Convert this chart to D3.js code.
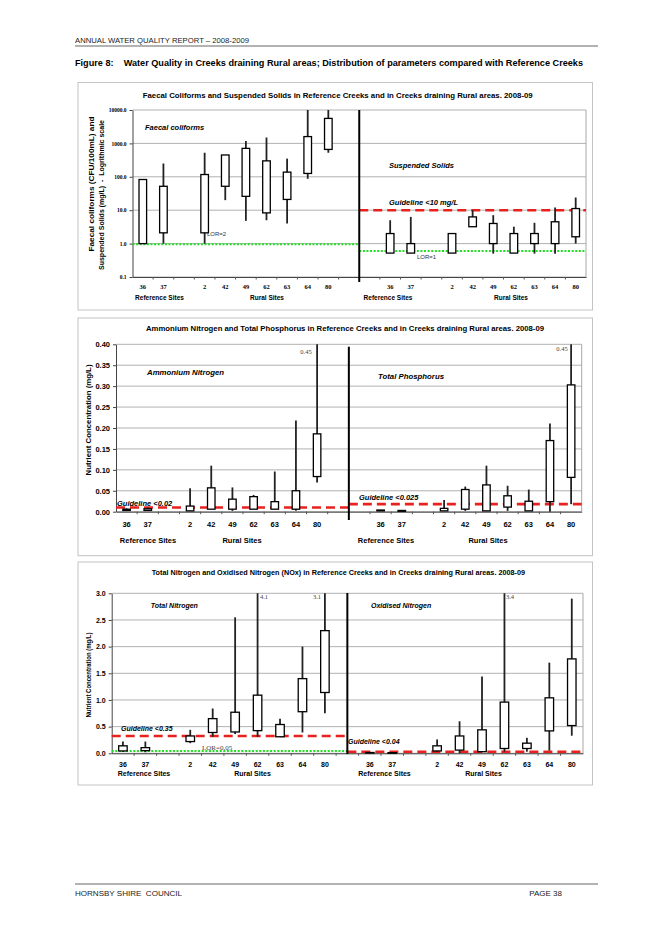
<!DOCTYPE html>
<html>
<head>
<meta charset="utf-8">
<script src="https://cdn.jsdelivr.net/npm/d3@7"></script>
<style>
  body { margin: 0; background: #fff; }
  svg { display: block; font-family: Arial, "Liberation Sans", sans-serif; }
  text { white-space: pre; }
</style>
</head>
<body>
<svg id="page" width="659" height="931"></svg>
<script>
// site labels, same order on both halves of every chart
var siteLabels = ['36', '37', '2', '42', '49', '62', '63', '64', '80'];
var siteSlots = [0, 1, 3, 4, 5, 6, 7, 8, 9];   // slot 2 = gap between reference and rural sites

// each row: [min, 25th, 75th, max]
var faecalColiforms = [[1, 1, 83, 83], [1, 2.1, 52, 250], [1, 2.1, 117, 525], [20, 52, 450, 450],
  [4.8, 26, 710, 1180], [5, 8.3, 300, 1500], [4, 21, 138, 350], [87, 126, 1600, 15000], [525, 660, 5600, 20000]];
var suspendedSolids = [[0.52, 0.52, 2, 5], [0.52, 0.52, 1, 6.3], [0.52, 0.52, 2, 2], [3.2, 3.2, 6.3, 10],
  [0.5, 1, 4, 7.1], [0.52, 0.52, 2, 3.2], [0.5, 1, 2, 4.2], [0.5, 1, 4.5, 12], [1, 1.6, 11.2, 24]];
var ammoniumN = [[0.002, 0.003, 0.006, 0.008], [0.002, 0.003, 0.007, 0.01], [0.002, 0.002, 0.0135, 0.056],
  [0.006, 0.006, 0.057, 0.11], [0.002, 0.006, 0.03, 0.058], [0.006, 0.006, 0.036, 0.04],
  [0.006, 0.006, 0.024, 0.096], [0.002, 0.006, 0.05, 0.218], [0.07, 0.084, 0.186, 0.45]];
var totalP = [[0.002, 0.002, 0.004, 0.004], [0.001, 0.001, 0.003, 0.003], [0.002, 0.002, 0.008, 0.028],
  [0.002, 0.006, 0.053, 0.06], [0.002, 0.002, 0.064, 0.11], [0.002, 0.011, 0.038, 0.062],
  [0.002, 0.002, 0.025, 0.053], [0, 0.024, 0.17, 0.211], [0.018, 0.082, 0.303, 0.45]];
var totalN = [[0.03, 0.044, 0.14, 0.22], [0.02, 0.05, 0.106, 0.22], [0.19, 0.22, 0.325, 0.44],
  [0.31, 0.39, 0.65, 0.84], [0.36, 0.4, 0.77, 2.55], [0.31, 0.425, 1.09, 4.1], [0.31, 0.31, 0.54, 0.65],
  [0.39, 0.78, 1.4, 2.0], [0.75, 1.14, 2.3, 3.1]];
var oxidisedN = [[0.005, 0.005, 0.015, 0.015], [0.005, 0.005, 0.012, 0.012], [0.03, 0.044, 0.14, 0.26],
  [0, 0.06, 0.325, 0.6], [0.03, 0.03, 0.44, 1.44], [0.03, 0.09, 0.96, 3.4], [0.03, 0.09, 0.19, 0.29],
  [0.05, 0.42, 1.04, 1.7], [0.33, 0.52, 1.77, 2.9]];

// axis ticks
var logTicks = [0.1, 1, 10, 100, 1000, 10000];
var ammTicks = [0, 0.05, 0.10, 0.15, 0.20, 0.25, 0.30, 0.35, 0.40];
var tnTicks = [0, 0.5, 1.0, 1.5, 2.0, 2.5, 3.0];

// guideline / LOR levels as drawn
var lorFaecal = 0.95, lorSolids = 0.6, guideSolids = 10;
var guideAmm = 0.01, guideTP = 0.018;
var guideTN = 0.325, lorTN = 0.044, guideNOx = 0.03;

var svg = d3.select('#page');
var serif = '"Liberation Serif", "DejaVu Serif", serif';
var sans = 'Arial, "Liberation Sans", sans-serif';

function txt(g, s, x, y, o) {
  o = o || {};
  var t = g.append('text').attr('x', x).attr('y', y).attr('dy', '0.35em')
    .attr('font-size', o.size || 7).attr('fill', o.fill || '#000')
    .attr('text-anchor', o.anchor || 'start').attr('xml:space', 'preserve').text(s);
  if (o.bold) t.attr('font-weight', 'bold');
  if (o.italic) t.attr('font-style', 'italic');
  if (o.family) t.attr('font-family', o.family);
  if (o.len) t.attr('textLength', o.len).attr('lengthAdjust', 'spacingAndGlyphs');
  if (o.rotate) t.attr('transform', 'rotate(-90,' + x + ',' + y + ')');
  return t;
}

function refLine(g, y, v, x0, x1, kind) {
  var l = g.append('line').attr('x1', x0).attr('x2', x1).attr('y1', y(v)).attr('y2', y(v));
  if (kind === 'red') l.attr('stroke', '#e8211f').attr('stroke-width', 2.6).attr('stroke-dasharray', '9,5');
  else l.attr('stroke', '#22dd22').attr('stroke-width', 2).attr('stroke-dasharray', '2,1.6');
}

function drawPanel(o) {
  var g = svg.append('g');
  var f = o.frame;
  g.append('rect').attr('x', f[0]).attr('y', f[1]).attr('width', f[2] - f[0]).attr('height', f[3] - f[1])
    .attr('fill', 'none').attr('stroke', '#c4c4c4');
  txt(g, o.title, (o.titleX[0] + o.titleX[1]) / 2, o.titleY,
    {anchor: 'middle', bold: true, size: 7, len: o.titleX[1] - o.titleX[0]});

  var x = d3.scaleBand().domain(d3.range(o.nSlots)).range([o.l, o.r]);
  var bw = x.bandwidth();
  var y = o.y;

  // grid and plot frame
  g.append('g').selectAll('line').data(o.ticks).join('line')
    .attr('x1', o.l).attr('x2', o.r).attr('y1', d => y(d)).attr('y2', d => y(d))
    .attr('stroke', '#a8a8a8').attr('stroke-width', 0.9);
  g.append('line').attr('x1', o.r).attr('x2', o.r).attr('y1', o.t).attr('y2', o.b)
    .attr('stroke', '#a8a8a8');

  // y axis
  var ya = g.append('g').attr('transform', 'translate(' + o.l + ',0)')
    .call(d3.axisLeft(y).tickValues(o.ticks).tickFormat(d3.format(o.fmt)).tickSize(3).tickSizeOuter(0));
  ya.select('.domain').attr('stroke', '#444');
  ya.selectAll('.tick line').attr('stroke', '#444');
  ya.selectAll('text').attr('font-family', o.yFamily).attr('font-size', o.ySize)
    .attr('font-weight', 'bold').attr('fill', '#000');

  // x axis: site labels in their slots, minor ticks at slot edges
  var slotLabel = {};
  siteSlots.forEach(function (s, i) {
    slotLabel[s] = siteLabels[i];
    slotLabel[s + o.rightOffset] = siteLabels[i];
  });
  var xa = g.append('g').attr('transform', 'translate(0,' + o.b + ')')
    .call(d3.axisBottom(x).tickValues(Object.keys(slotLabel).map(Number))
      .tickFormat(d => slotLabel[d]).tickSize(0).tickSizeOuter(0).tickPadding(o.xPad));
  xa.select('.domain').attr('stroke', '#444');
  xa.selectAll('text').attr('font-family', o.xFamily).attr('font-size', o.xSize)
    .attr('font-weight', 'bold').attr('fill', '#000');
  g.append('g').selectAll('line').data(d3.range(1, o.nSlots)).join('line')
    .attr('x1', d => x(d)).attr('x2', d => x(d)).attr('y1', o.b).attr('y2', o.b + 2.5)
    .attr('stroke', '#555');

  // group labels
  o.groups.forEach(function (gl) {
    txt(g, gl[0], gl[1], o.groupY, {anchor: 'middle', bold: true, size: o.groupSize});
  });

  // reference lines
  o.refs.forEach(function (r) {
    refLine(g, y, r.v, r.side === 'L' ? o.l : o.divX(x), r.side === 'L' ? o.divX(x) : o.r, r.kind);
  });

  // boxes
  [[o.left, 0], [o.right, o.rightOffset]].forEach(function (half) {
    var bg = g.append('g').selectAll('g').data(half[0]).join('g')
      .attr('transform', (d, i) => 'translate(' + (x(siteSlots[i] + half[1]) + bw / 2) + ',0)');
    bg.append('line').attr('y1', d => y(d[0])).attr('y2', d => y(d[3]))
      .attr('stroke', '#222').attr('stroke-width', 1.8);
    bg.append('rect').attr('x', -o.boxW / 2).attr('width', o.boxW)
      .attr('y', d => y(d[2])).attr('height', d => Math.max(0.6, y(d[1]) - y(d[2])))
      .attr('fill', '#fff').attr('stroke', '#000').attr('stroke-width', 1.3);
  });

  // divider between the two parameters
  var dx = o.divX(x);
  g.append('line').attr('x1', dx).attr('x2', dx).attr('y1', o.divY[0]).attr('y2', o.divY[1])
    .attr('stroke', '#000').attr('stroke-width', 2);

  o.notes.forEach(function (n) { txt(g, n[0], n[1], n[2], n[3]); });
  return g;
}

// ---- page header ----
txt(svg, 'ANNUAL WATER QUALITY REPORT \u2013 2008-2009', 75, 40, {size: 7.5, len: 174, fill: '#222'});
svg.append('line').attr('x1', 75).attr('x2', 598).attr('y1', 46).attr('y2', 46).attr('stroke', '#666');
txt(svg, 'Figure 8:    Water Quality in Creeks draining Rural areas; Distribution of parameters compared with Reference Creeks',
  75, 63, {size: 9.5, bold: true, len: 508});

// ---- panel 1 : faecal coliforms / suspended solids (log) ----
var it = {bold: true, italic: true, size: 7.5};
drawPanel({
  frame: [78, 82.5, 592.5, 310],
  title: 'Faecal Coliforms and Suspended Solids in Reference Creeks and in Creeks draining Rural areas. 2008-09',
  titleX: [142.7, 532.7], titleY: 96,
  l: 132.5, r: 586, t: 110, b: 277, nSlots: 22, rightOffset: 12,
  y: d3.scaleLog().domain([0.1, 10000]).range([277, 110]).clamp(true),
  ticks: logTicks, fmt: '.1f', yFamily: serif, ySize: 5.5,
  xFamily: serif, xSize: 6.5, xPad: 7.5,
  groups: [['Reference Sites', 159.5], ['Rural Sites', 267], ['Reference Sites', 388], ['Rural Sites', 511]],
  groupY: 298, groupSize: 6.5,
  refs: [{v: lorFaecal, side: 'L', kind: 'green'}, {v: lorSolids, side: 'R', kind: 'green'},
    {v: guideSolids, side: 'R', kind: 'red'}],
  left: faecalColiforms, right: suspendedSolids, boxW: 7.6,
  divX: x => x(11), divY: [110, 282],
  notes: [
    ['Faecal coliforms', 145, 127, it],
    ['Suspended Solids', 389, 165, it],
    ['Guideline <10 mg/L', 389, 202, it],
    ['LOR=2', 207, 234, {size: 6, fill: '#333'}],
    ['LOR=1', 417, 257, {size: 6, fill: '#333'}],
    ['Faecal coliforms (CFU/100mL) and', 92, 184, {bold: true, size: 7, rotate: true, anchor: 'middle', len: 135}],
    ['Suspended Solids (mg/L)  -  Logrithmic scale', 102, 195, {bold: true, size: 7, rotate: true, anchor: 'middle', len: 150}]
  ]
});

// ---- panel 2 : ammonium nitrogen / total phosphorus ----
drawPanel({
  frame: [78, 318, 592.5, 555.7],
  title: 'Ammonium Nitrogen and Total Phosphorus in Reference Creeks and in Creeks draining Rural areas. 2008-09',
  titleX: [146, 544], titleY: 328.5,
  l: 116, r: 581.7, t: 344.3, b: 511.7, nSlots: 22, rightOffset: 12,
  y: d3.scaleLinear().domain([0, 0.4]).range([511.7, 344.3]).clamp(true),
  ticks: ammTicks, fmt: '.2f', yFamily: sans, ySize: 7.5,
  xFamily: sans, xSize: 7.5, xPad: 10,
  groups: [['Reference Sites', 148], ['Rural Sites', 242], ['Reference Sites', 386], ['Rural Sites', 488]],
  groupY: 540, groupSize: 7.5,
  refs: [{v: guideAmm, side: 'L', kind: 'red'}, {v: guideTP, side: 'R', kind: 'red'}],
  left: ammoniumN, right: totalP, boxW: 7.5,
  divX: x => x(11), divY: [346.7, 520],
  notes: [
    ['Ammonium Nitrogen', 147, 372, {bold: true, italic: true, size: 7.8}],
    ['Total Phosphorus', 378, 376, {bold: true, italic: true, size: 7.8}],
    ['Guideline <0.02', 117, 503, {bold: true, italic: true, size: 7.5}],
    ['Guideline <0.025', 359, 497, {bold: true, italic: true, size: 7.5}],
    ['0.45', 306, 352, {size: 6.5, family: serif, fill: '#444', anchor: 'middle'}],
    ['0.45', 562, 349, {size: 6.5, family: serif, fill: '#444', anchor: 'middle'}],
    ['Nutrient Concentration (mg/L)', 88, 420, {bold: true, size: 7.5, rotate: true, anchor: 'middle', len: 111}]
  ]
});

// ---- panel 3 : total nitrogen / oxidised nitrogen ----
drawPanel({
  frame: [78, 562, 592.5, 785],
  title: 'Total Nitrogen and Oxidised Nitrogen (NOx) in Reference Creeks and in Creeks draining Rural areas. 2008-09',
  titleX: [151.7, 525], titleY: 573,
  l: 111.7, r: 583, t: 593.3, b: 753.3, nSlots: 21, rightOffset: 11,
  y: d3.scaleLinear().domain([0, 3]).range([753.3, 593.3]).clamp(true),
  ticks: tnTicks, fmt: '.1f', yFamily: sans, ySize: 7,
  xFamily: sans, xSize: 7, xPad: 9,
  groups: [['Reference Sites', 144], ['Rural Sites', 252.5], ['Reference Sites', 384.5], ['Rural Sites', 483.5]],
  groupY: 774, groupSize: 7,
  refs: [{v: lorTN, side: 'L', kind: 'green'}, {v: guideTN, side: 'L', kind: 'red'},
    {v: guideNOx, side: 'R', kind: 'red'}],
  left: totalN, right: oxidisedN, boxW: 8.5,
  divX: x => x(10) + x.bandwidth() / 2, divY: [593, 754],
  notes: [
    ['Total Nitrogen', 150.7, 606, {bold: true, italic: true, size: 7}],
    ['Oxidised Nitrogen', 371, 606, {bold: true, italic: true, size: 7}],
    ['Guideline <0.35', 121, 729, {bold: true, italic: true, size: 7}],
    ['Guideline <0.04', 348, 742, {bold: true, italic: true, size: 7}],
    ['LOR=0.05', 202, 748, {size: 7, family: serif, fill: '#444'}],
    ['4.1', 264, 597, {size: 6.5, family: serif, fill: '#444', anchor: 'middle'}],
    ['3.1', 317, 597, {size: 6.5, family: serif, fill: '#444', anchor: 'middle'}],
    ['3.4', 510, 597, {size: 6.5, family: serif, fill: '#444', anchor: 'middle'}],
    ['Nutrient Concentration (mg/L)', 88.3, 675, {bold: true, size: 6.5, rotate: true, anchor: 'middle', len: 85}]
  ]
});

// ---- footer ----
svg.append('line').attr('x1', 75).attr('x2', 598).attr('y1', 884).attr('y2', 884).attr('stroke', '#666');
txt(svg, 'HORNSBY SHIRE  COUNCIL', 75, 893, {size: 7.5, len: 107, fill: '#222'});
txt(svg, 'PAGE 38', 562, 893, {size: 8, anchor: 'end', fill: '#222'});
</script>
</body>
</html>
